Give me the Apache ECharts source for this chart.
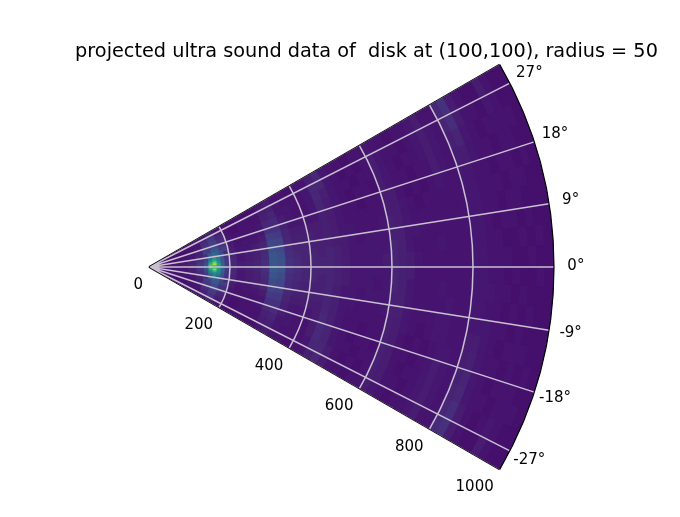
<!DOCTYPE html>
<html>
<head>
<meta charset="utf-8">
<style>html,body{margin:0;padding:0;background:#fff}#c{width:680px;height:517px}</style>
<script src="https://cdn.jsdelivr.net/npm/echarts@6/dist/echarts.min.js"></script>
</head>
<body>
<div id="c"></div>
<script>
var titleText = 'projected ultra sound data of  disk at (100,100), radius = 50';
var angleTicks = [-27,-18,-9,0,9,18,27];
var radiusLabels = [0,200,400,600,800,1000];
var radiusGrid = [200,400,600,800];
var radiusMax = [1000];
var angleLabelRadius = 1054;
var angleCenters = [28.5,25.5,22.5,19.5,16.5,13.5,10.5,7.5,4.5,1.5,-1.5,-4.5,-7.5,-10.5,-13.5,-16.5,-19.5,-22.5,-25.5,-28.5];
var radiusCenters = [10,30,50,70,90,110,130,150,170,190,210,230,250,270,290,310,330,350,370,390,410,430,450,470,490,510,530,550,570,590,610,630,650,670,690,710,730,750,770,790,810,830,850,870,890,910,930,950,970,990];
var viridis = ['#440154','#450f6c','#482475','#463480','#414487','#3b528b','#355f8d','#31688e','#2a788e','#26828e','#21918c','#1f9e89','#22a884','#2fb47c','#44bf70','#5ec962','#7ad151','#95d840','#bddf26','#dfe318','#fde725'];
var rows = [
[5,5,5,5,5,5,6,6,9,6, 5,5,6,5,5,7,8,6,6,5, 6,6,9,11,7,6,6,5,6,6, 7,6,6,5,6,6,7,8,6,6, 11,14,8,6,5,5,8,6,5,5],
[5,5,5,5,5,6,6,9,14,8, 6,5,6,6,6,8,9,7,6,6, 6,7,11,11,7,6,5,6,5,6, 8,7,6,6,5,6,7,8,7,6, 10,13,8,6,6,5,7,6,5,5],
[5,5,5,5,6,6,7,12,17,11, 6,5,6,6,6,9,10,7,7,6, 6,7,11,9,7,6,6,5,6,6, 8,7,6,5,6,6,7,8,7,6, 9,10,7,6,5,6,6,6,6,5],
[5,5,5,5,5,6,7,14,19,13, 7,6,6,6,7,11,12,8,7,6, 6,7,10,8,7,6,5,6,6,5, 8,7,6,6,5,6,6,8,7,6, 8,8,7,6,6,5,6,6,5,5],
[5,5,5,5,6,6,8,16,21,14, 7,6,6,6,7,14,14,9,7,7, 7,7,9,8,7,6,6,5,6,6, 8,8,6,5,6,5,6,7,6,6, 7,7,6,6,5,6,6,5,6,5],
[5,5,6,6,6,7,9,18,27,18, 8,6,7,7,8,18,17,10,8,8, 8,8,9,8,7,6,6,6,6,6, 8,8,7,6,5,6,6,6,6,6, 7,7,6,6,6,5,6,6,5,5],
[5,6,6,6,6,7,10,22,36,22, 9,7,7,8,10,21,20,11,9,9, 9,8,9,8,7,7,6,6,6,7, 9,8,7,6,6,6,6,6,6,6, 7,7,6,6,5,6,6,5,5,5],
[6,6,6,6,7,8,12,28,50,26, 10,7,8,9,11,24,22,12,10,10, 9,9,9,8,8,7,6,7,7,7, 9,9,7,7,6,6,6,6,6,6, 7,7,6,5,6,6,5,6,5,5],
[6,6,6,7,7,9,14,34,68,32, 11,7,8,9,12,26,24,13,11,10, 10,9,10,9,8,7,7,7,7,7, 10,9,7,6,6,6,7,6,6,6, 7,7,6,6,5,5,6,5,6,5],
[7,7,7,7,8,10,16,40,88,36, 11,8,9,10,13,27,25,14,12,10, 10,10,10,9,8,7,7,7,7,8, 10,9,8,7,6,6,6,6,6,6, 7,7,6,6,6,5,5,6,5,5],
[7,7,7,7,8,10,16,42,84,38, 12,8,9,10,13,28,25,14,12,10, 10,10,10,9,8,7,7,7,7,7, 10,9,8,6,6,6,6,6,6,6, 7,7,6,6,5,6,5,5,6,5],
[6,6,6,7,7,9,14,36,64,33, 11,7,8,9,12,25,23,13,11,10, 10,9,10,9,8,7,7,7,6,7, 10,9,7,6,6,6,7,6,6,6, 7,7,7,6,6,5,6,5,5,5],
[6,6,6,6,7,8,12,30,47,27, 10,7,8,9,11,23,21,12,10,9, 9,9,10,8,7,7,6,7,7,7, 9,9,7,6,6,6,6,7,6,6, 7,7,6,6,5,6,5,6,5,5],
[5,6,6,6,6,7,10,23,35,22, 9,7,7,8,10,20,19,11,9,9, 9,9,10,9,7,7,6,6,6,7, 9,9,7,6,6,6,7,7,6,6, 7,7,7,6,6,5,6,5,5,5],
[5,5,6,6,6,7,9,18,27,18, 8,6,7,7,8,17,16,10,8,8, 8,8,10,9,7,6,6,6,6,6, 9,8,7,6,5,6,7,7,6,6, 8,8,7,6,5,6,6,6,5,5],
[5,5,5,5,6,6,8,16,22,14, 7,6,6,6,7,14,14,9,7,7, 7,8,11,9,7,6,6,5,6,6, 9,8,6,5,6,5,6,7,7,6, 8,9,7,6,6,5,6,5,6,5],
[5,5,5,5,5,6,7,14,20,13, 7,6,6,6,7,11,12,8,7,6, 6,8,12,10,7,6,5,6,6,5, 9,8,6,6,5,6,7,8,7,6, 9,10,7,6,5,6,6,6,5,5],
[5,5,5,5,6,6,7,12,17,11, 6,5,6,6,6,9,10,7,7,6, 6,8,12,10,7,6,6,5,6,6, 9,8,6,5,6,6,7,8,7,6, 10,11,7,6,6,5,6,6,6,5],
[5,5,5,5,5,6,6,9,14,8, 6,5,6,6,6,8,9,7,6,6, 6,7,11,11,8,6,5,6,5,6, 9,8,6,6,5,6,7,8,7,6, 11,13,8,6,5,6,7,6,5,5],
[5,5,5,5,5,5,6,6,9,6, 5,5,6,5,5,7,8,6,6,5, 6,6,9,11,8,6,6,5,6,6, 8,7,6,5,6,6,7,8,6,6, 12,14,8,6,5,5,8,6,5,5]
];
var hotAngles = [10.5,9,7.5,6,4.5,3,1.5,0,-1.5,-3,-4.5,-6,-7.5,-9,-10.5];
var hotRadii = [145,155,165,175,185,195];
var hotRows = [
[12,26,34,28,20,12],
[14,30,40,32,22,13],
[16,34,46,38,24,14],
[18,38,55,42,26,15],
[20,48,62,45,28,15],
[22,55,78,50,30,16],
[24,66,88,56,32,17],
[26,72,70,60,30,16],
[25,80,62,52,34,17],
[24,60,84,50,30,16],
[22,52,68,48,30,15],
[20,42,52,46,27,15],
[18,36,46,38,25,14],
[15,31,40,32,23,13],
[12,27,34,28,20,12]
];
var edgeRadii = [0,1000];
var edgeAngles = [30,-30];

function toCells(angles,radii,table){
  var out=[];
  angles.forEach(function(a,ia){
    radii.forEach(function(r,ir){ out.push([r,a,table[ia][ir]]); });
  });
  return out;
}
function edge(a){ return edgeRadii.map(function(r){ return [r,a]; }); }

function cellItem(rHalf,aHalf){
  return function(params,api){
    var r=api.value(0),a=api.value(1);
    var p0=api.coord([Math.max(r-rHalf-3,edgeRadii[0]),a-aHalf]),
        p1=api.coord([r+rHalf,a+aHalf]);
    var top=api.coord([edgeRadii[1],edgeAngles[0]])[3];
    var overlap=p1[2]>0?1.2/p1[2]:0;
    return {type:'sector',
      shape:{cx:params.coordSys.cx,cy:params.coordSys.cy,r0:p0[2],r:p1[2],
        startAngle:-Math.min(p1[3]+overlap,top),endAngle:-p0[3],clockwise:true},
      style:{fill:api.visual('color')}};
  };
}
function arcItem(color,width){
  return function(params,api){
    var p=api.coord([api.value(0),edgeAngles[0]]),q=api.coord([api.value(0),edgeAngles[1]]);
    return {type:'arc',shape:{cx:params.coordSys.cx,cy:params.coordSys.cy,r:p[2],
      startAngle:-p[3],endAngle:-q[3],clockwise:true},
      style:{fill:null,stroke:color,lineWidth:width}};
  };
}

var font = '"DejaVu Sans"';
var chart = echarts.init(document.getElementById('c'),null,{renderer:'canvas'});
chart.setOption({
  animation:false,
  backgroundColor:'#ffffff',
  title:{text:titleText,left:361.5,top:37.5,textAlign:'center',
    textStyle:{fontFamily:font,fontSize:19.27,fontWeight:'normal',color:'#000'}},
  polar:{center:[149,267],radius:405},
  visualMap:{type:'continuous',show:false,min:0,max:100,dimension:2,seriesIndex:[0,1],inRange:{color:viridis}},
  angleAxis:{type:'value',min:-30,max:30,startAngle:-30,endAngle:30,z:10,
    axisLine:{show:false},
    axisTick:{show:false,customValues:angleTicks},
    axisLabel:{show:false,customValues:angleTicks},
    splitLine:{show:true,lineStyle:{color:'#c9c0d2',width:1.5}},
    minorTick:{show:false}},
  radiusAxis:{type:'value',min:0,max:1000,z:10,
    axisLine:{show:false},
    axisTick:{show:false,customValues:radiusGrid},
    axisLabel:{customValues:radiusLabels,margin:-12,align:'right',verticalAlign:'top',hideOverlap:false,
      fontFamily:font,fontSize:15,color:'#000',formatter:function(v){return String(v);}},
    splitLine:{show:false}},
  series:[
    {type:'custom',coordinateSystem:'polar',z:1,silent:true,
     encode:{radius:0,angle:1},data:toCells(angleCenters,radiusCenters,rows),
     renderItem:cellItem((radiusCenters[1]-radiusCenters[0])/2,Math.abs(angleCenters[1]-angleCenters[0])/2)},
    {type:'custom',coordinateSystem:'polar',z:2,silent:true,
     encode:{radius:0,angle:1},data:toCells(hotAngles,hotRadii,hotRows),
     renderItem:cellItem((hotRadii[1]-hotRadii[0])/2,Math.abs(hotAngles[1]-hotAngles[0])/2)},
    {type:'custom',coordinateSystem:'polar',z:9,silent:true,
     encode:{radius:0},data:radiusGrid.map(function(r){return [r];}),
     renderItem:arcItem('#c9c0d2',1.5)},
    {type:'custom',coordinateSystem:'polar',z:11,silent:true,
     encode:{radius:0},data:radiusMax.map(function(r){return [r];}),
     renderItem:arcItem('#000',1.2)},
    {type:'custom',coordinateSystem:'polar',z:11,silent:true,clip:false,
     encode:{angle:0},data:angleTicks.map(function(a){return [a];}),
     renderItem:function(params,api){
       var a=api.value(0),p=api.coord([angleLabelRadius,a]);
       return {type:'text',style:{x:p[0],y:p[1]-0.5,text:a+'\u00b0',textAlign:'center',textVerticalAlign:'middle',
         fontFamily:font,fontSize:15,fill:'#000'}};
     }},
    {type:'line',coordinateSystem:'polar',z:11,silent:true,symbol:'none',
     lineStyle:{color:'#000',width:1.5},data:edge(edgeAngles[0])},
    {type:'line',coordinateSystem:'polar',z:11,silent:true,symbol:'none',
     lineStyle:{color:'#000',width:1.5},data:edge(edgeAngles[1])}
  ]
});
</script>
</body>
</html>
